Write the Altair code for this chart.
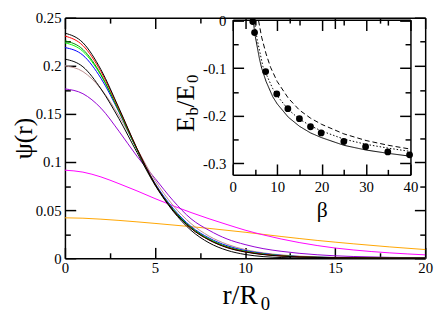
import altair as alt
import pandas as pd

W, H = 367, 245
FONT = "Liberation Serif"

# ---------------- main panel: psi(r) ----------------
r = [0, 1, 2, 3, 4, 5, 6, 7, 8, 9, 10, 11, 12, 13, 14, 15, 16, 18, 20]
psi_black = [0.234, 0.224, 0.196, 0.156, 0.114, 0.077, 0.050, 0.031, 0.019, 0.011, 0.0065, 0.0038, 0.0022, 0.0013, 0.0008, 0.0005, 0.0003, 0.0001, 0.0]
psi_red = [0.231, 0.221, 0.194, 0.155, 0.114, 0.077, 0.050, 0.031, 0.019, 0.0112, 0.0067, 0.0040, 0.0024, 0.0014, 0.0009, 0.0005, 0.0003, 0.0001, 0.0]
psi_green4 = [0.226, 0.217, 0.191, 0.153, 0.113, 0.077, 0.050, 0.032, 0.0195, 0.0117, 0.0070, 0.0042, 0.0025, 0.0015, 0.0009, 0.0006, 0.0004, 0.0001, 0.0]
psi_green = [0.224, 0.215, 0.190, 0.153, 0.113, 0.077, 0.051, 0.032, 0.020, 0.012, 0.0073, 0.0044, 0.0027, 0.0016, 0.0010, 0.0006, 0.0004, 0.0001, 0.0]
psi_blue = [0.219, 0.211, 0.187, 0.152, 0.113, 0.078, 0.052, 0.033, 0.021, 0.013, 0.0080, 0.0050, 0.0030, 0.0018, 0.0011, 0.0007, 0.0004, 0.0002, 0.0001]
psi_brown = [0.200, 0.194, 0.176, 0.148, 0.114, 0.081, 0.055, 0.036, 0.023, 0.0145, 0.0090, 0.0056, 0.0035, 0.0022, 0.0014, 0.0009, 0.0006, 0.0002, 0.0001]
psi_violet = [0.176, 0.171, 0.156, 0.132, 0.106, 0.083, 0.060, 0.041, 0.029, 0.020, 0.0142, 0.0100, 0.0072, 0.0051, 0.0036, 0.0025, 0.0018, 0.0009, 0.0004]
psi_magenta = [0.0915, 0.0895, 0.0845, 0.0775, 0.0700, 0.0620, 0.0545, 0.0475, 0.0410, 0.0350, 0.0292, 0.0243, 0.0200, 0.0163, 0.0132, 0.0106, 0.0086, 0.0056, 0.0035]
psi_orange = [0.042, 0.0416, 0.0406, 0.0393, 0.0378, 0.0362, 0.0345, 0.0328, 0.0310, 0.0290, 0.0270, 0.0248, 0.0226, 0.0205, 0.0185, 0.0167, 0.0150, 0.0118, 0.0090]
psi_thick = [0.207, 0.199, 0.176, 0.145, 0.110, 0.076, 0.049, 0.029, 0.016, 0.0082, 0.0039, 0.0017, 0.0007, 0.0003, 0.0001, 0.0, 0.0, 0.0, 0.0]

curve_names = ["orange", "magenta", "violet", "brown", "blue", "green", "green4", "red", "black", "thick"]
curve_values = [psi_orange, psi_magenta, psi_violet, psi_brown, psi_blue, psi_green, psi_green4, psi_red, psi_black, psi_thick]
curve_colors = ["#FFA500", "#FF00FF", "#9400D3", "#BC8F8F", "#0000FF", "#00FF00", "#008B00", "#FF0000", "#000000", "#000000"]
curve_widths = [1, 1, 1, 1, 1, 1, 1, 1, 1, 3]

# ---------------- inset: E_b/E_0 vs beta ----------------
beta_pts = [4.5, 4.9, 7.4, 9.9, 12.4, 15.0, 17.5, 19.9, 25.0, 29.9, 34.9, 39.8]
e_pts = [-0.002, -0.025, -0.107, -0.154, -0.185, -0.206, -0.223, -0.236, -0.254, -0.265, -0.276, -0.282]

beta_solid = [4.6, 5.0, 5.5, 6.0, 6.5, 7.5, 9.0, 10.0, 12.5, 15.0, 17.5, 20.0, 25.0, 30.0, 35.0, 40.0]
e_solid = [0.0, -0.030, -0.055, -0.080, -0.100, -0.128, -0.160, -0.175, -0.203, -0.222, -0.236, -0.246, -0.262, -0.272, -0.279, -0.285]
beta_dashed = [5.8, 6.5, 7.5, 8.5, 10.0, 12.5, 15.0, 17.5, 20.0, 25.0, 30.0, 35.0, 40.0]
e_dashed = [0.0, -0.035, -0.070, -0.098, -0.128, -0.163, -0.188, -0.205, -0.218, -0.238, -0.252, -0.262, -0.270]
beta_dotted = [5.0, 5.5, 6.0, 6.8, 7.5, 9.0, 10.0, 12.5, 15.0, 17.5, 20.0, 25.0, 30.0, 35.0, 40.0]
e_dotted = [-0.010, -0.040, -0.062, -0.097, -0.112, -0.143, -0.158, -0.187, -0.207, -0.221, -0.232, -0.249, -0.260, -0.268, -0.275]

# ---------------- tables ----------------
rows = []
for name, vals in zip(curve_names, curve_values):
    for ri, v in zip(r, vals):
        rows.append({"r": ri, "psi": v, "curve": name})
df_main = pd.DataFrame(rows)

df_pts = pd.DataFrame({"beta": beta_pts, "E": e_pts})
lrows = []
for style, bs, es in [("solid", beta_solid, e_solid), ("dashed", beta_dashed, e_dashed), ("dotted", beta_dotted, e_dotted)]:
    for b, e in zip(bs, es):
        lrows.append({"beta": b, "E": e, "style": style})
df_lines = pd.DataFrame(lrows)

# ---------------- scales ----------------
xs_main = alt.Scale(domain=[0, 20], nice=False, zero=False)
ys_main = alt.Scale(domain=[0, 0.25], nice=False, zero=False)
IN_L, IN_R, IN_T, IN_B = 171, 352, 2, 160
xs_in = alt.Scale(domain=[0, 40], range=[IN_L, IN_R], nice=False, zero=False)
ys_in = alt.Scale(domain=[-0.324, 0.002], range=[IN_B, IN_T], nice=False, zero=False)

x_major = [0, 5, 10, 15, 20]
x_minor = [2.5, 7.5, 12.5, 17.5]
y_major = [0, 0.05, 0.1, 0.15, 0.2, 0.25]
y_minor = [0.025, 0.075, 0.125, 0.175, 0.225]
bx_major = [0, 10, 20, 30, 40]
bx_minor = [5, 15, 25, 35]
ey_major = [0, -0.1, -0.2, -0.3]
ey_minor = [-0.05, -0.15, -0.25]

MAJ, MIN = 11, 5.5


def tick_axis(orient, offset, values, size, domain=False, **kw):
    return alt.Axis(orient=orient, offset=offset, values=values, ticks=True, tickSize=size,
                    domain=domain, labels=False, grid=False, **kw)


ax_main_x = alt.Axis(orient="bottom", values=x_major, ticks=False, tickSize=0, domain=True,
                     labels=True, labelPadding=3, labelFontSize=15, format="d",
                     title="r/R", titleFontSize=28, titleFontWeight="normal",
                     titleX=178, titleY=46, titleBaseline="alphabetic", titleAlign="center")
ax_main_y = alt.Axis(orient="left", values=y_major, ticks=False, tickSize=0, domain=True,
                     labels=True, labelPadding=4, labelFontSize=15, format="~g",
                     title="ψ(r)", titleFontSize=26, titleFontWeight="normal", titleAngle=270,
                     titleX=-42, titleY=H / 2, titleBaseline="middle", titleAlign="center")

main_layers = [
    alt.Chart(df_main).mark_line(interpolate="monotone").encode(
        x=alt.X("r:Q", scale=xs_main, axis=ax_main_x),
        y=alt.Y("psi:Q", scale=ys_main, axis=ax_main_y),
        color=alt.Color("curve:N", scale=alt.Scale(domain=curve_names, range=curve_colors), legend=None),
        strokeWidth=alt.StrokeWidth("curve:N", scale=alt.Scale(domain=curve_names, range=curve_widths), legend=None),
        order=alt.Order("r:Q"),
    ),
    alt.Chart(df_main).mark_point(opacity=0).encode(
        x=alt.X("r:Q", scale=xs_main, axis=tick_axis("top", -H, x_major, MAJ,
                title="0", titleFontSize=19, titleFontWeight="normal",
                titleX=199, titleY=52, titleBaseline="alphabetic", titleAlign="left")),
        y=alt.Y("psi:Q", scale=ys_main, axis=tick_axis("right", -W, y_major, MAJ, title=None)),
    ),
    alt.Chart(df_main).mark_point(opacity=0).encode(
        x=alt.X("r:Q", scale=xs_main, axis=tick_axis("top", -H, x_minor, MIN, title=None)),
        y=alt.Y("psi:Q", scale=ys_main, axis=tick_axis("right", -W, y_minor, MIN, title=None)),
    ),
    alt.Chart(df_main).mark_point(opacity=0).encode(
        x=alt.X("r:Q", scale=xs_main, axis=tick_axis("bottom", -H, x_major, MAJ, domain=True, title=None)),
        y=alt.Y("psi:Q", scale=ys_main, axis=tick_axis("left", -W, y_major, MAJ, domain=True, title=None)),
    ),
    alt.Chart(df_main).mark_point(opacity=0).encode(
        x=alt.X("r:Q", scale=xs_main, axis=tick_axis("bottom", -H, x_minor, MIN, title=None)),
        y=alt.Y("psi:Q", scale=ys_main, axis=tick_axis("left", -W, y_minor, MIN, title=None)),
    ),
]

ax_in_x = alt.Axis(orient="bottom", offset=IN_B - H, values=bx_major, ticks=False, tickSize=0, domain=True,
                   labels=True, labelPadding=5, labelFontSize=15, format="d",
                   title="β", titleFontSize=22, titleFontWeight="normal",
                   titleX=(IN_L + IN_R) / 2, titleY=43, titleBaseline="alphabetic", titleAlign="center")
ax_in_y = alt.Axis(orient="left", offset=-IN_L, values=ey_major, ticks=False, tickSize=0, domain=True,
                   labels=True, labelPadding=7, labelFontSize=15,
                   labelExpr="datum.value == 0 ? '0' : '-' + format(-datum.value, '~g')",
                   title="E", titleFontSize=26, titleFontWeight="normal", titleAngle=270,
                   titleX=-40, titleY=116, titleBaseline="alphabetic", titleAlign="left")

inset_layers = [
    alt.Chart(df_lines).mark_line(color="black", strokeWidth=1).encode(
        x=alt.X("beta:Q", scale=xs_in, axis=None),
        y=alt.Y("E:Q", scale=ys_in, axis=None),
        strokeDash=alt.StrokeDash("style:N", scale=alt.Scale(domain=["solid", "dashed", "dotted"],
                                                              range=[[1, 0], [5, 3], [1.5, 2]]), legend=None),
        order=alt.Order("beta:Q"),
    ),
    alt.Chart(df_pts).mark_circle(size=48, color="black", opacity=1).encode(
        x=alt.X("beta:Q", scale=xs_in, axis=ax_in_x),
        y=alt.Y("E:Q", scale=ys_in, axis=ax_in_y),
    ),
    alt.Chart(df_pts).mark_point(opacity=0).encode(
        x=alt.X("beta:Q", scale=xs_in, axis=tick_axis("top", -IN_B, bx_major, MAJ, title=None)),
        y=alt.Y("E:Q", scale=ys_in, axis=tick_axis("right", IN_L - W, ey_major, MAJ,
                title="b", titleFontSize=17, titleFontWeight="normal", titleAngle=270,
                titleX=-36, titleY=99, titleBaseline="alphabetic", titleAlign="left")),
    ),
    alt.Chart(df_pts).mark_point(opacity=0).encode(
        x=alt.X("beta:Q", scale=xs_in, axis=tick_axis("top", -IN_B, bx_minor, MIN, title=None)),
        y=alt.Y("E:Q", scale=ys_in, axis=tick_axis("right", IN_L - W, ey_minor, MIN,
                title="/E", titleFontSize=26, titleFontWeight="normal", titleAngle=270,
                titleX=-40, titleY=91, titleBaseline="alphabetic", titleAlign="left")),
    ),
    alt.Chart(df_pts).mark_point(opacity=0).encode(
        x=alt.X("beta:Q", scale=xs_in, axis=tick_axis("bottom", IN_T - H, bx_major, MAJ, domain=True, title=None)),
        y=alt.Y("E:Q", scale=ys_in, axis=tick_axis("left", -IN_R, ey_major, MAJ, domain=True,
                title="0", titleFontSize=17, titleFontWeight="normal", titleAngle=270,
                titleX=-217, titleY=66, titleBaseline="alphabetic", titleAlign="left")),
    ),
    alt.Chart(df_pts).mark_point(opacity=0).encode(
        x=alt.X("beta:Q", scale=xs_in, axis=tick_axis("bottom", IN_T - H, bx_minor, MIN, title=None)),
        y=alt.Y("E:Q", scale=ys_in, axis=tick_axis("left", -IN_R, ey_minor, MIN, title=None)),
    ),
]

chart = alt.layer(*main_layers, *inset_layers).resolve_scale(
    x="independent", y="independent"
).properties(
    width=W, height=H,
    padding={"left": 58, "top": 7, "right": 10, "bottom": 58},
    autosize=alt.AutoSizeParams(type="none"),
).configure_axis(
    labelFont=FONT, titleFont=FONT, labelColor="black", titleColor="black",
    domainColor="black", tickColor="black", domainWidth=1.5, tickWidth=1.5,
    labelFlush=False, labelOverlap=False, labelBound=False, grid=False,
).configure_view(strokeWidth=0)

chart.save("out.html", embed_options={"renderer": "svg", "actions": False})
